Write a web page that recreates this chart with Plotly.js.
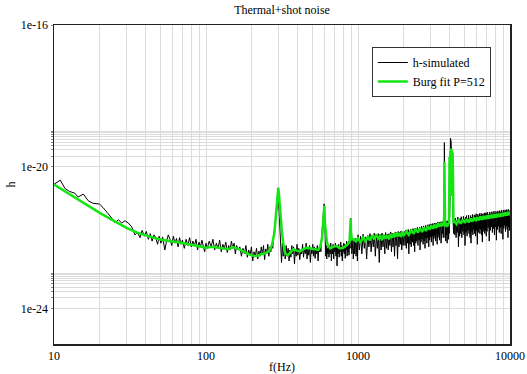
<!DOCTYPE html>
<html><head><meta charset="utf-8">
<script src="https://cdn.plot.ly/plotly-3.0.1.min.js"></script>
<style>html,body{margin:0;padding:0;background:#fff}#chart{width:527px;height:374px}</style>
</head><body><div id="chart"></div>
<script>
// h-simulated (frequency in Hz, strain value)
const simFreq = [
10,10.5,11,11.8,12.7,13.7,14.4,15.6,16.8,18.1,19.9,21,22.5,24,25.2,26.5,27.9,29.3,30.8,32.5,34.1,
35.5,36.8,38,39.3,40.5,41.8,43,44.2,45.5,46.7,48,49.2,50.5,51.8,53.6,55,56.5,58,59.5,61,62.5,64,65.5,67,68.5,70,72,74,76,78,80,82,84,86,88,90,92,94,96,98,
100,102,105,108,111,114,117,120,123,126,129,132,135,138,141,144,147,150,153,156,159,163,167,171,175,179,183,187,191,195,199,203,207,211,215,219,223,227,231,235,239,243,247,251,255,259,263,267,271,275,279,283,287,292,296,300,303,306,310,314,318,322,327,332,337,342,347,352,357,362,367,372,377,382,387,392,397,
402,408,414,420,426,432,438,444,450,456,462,468,474,480,486,492,498,504,510,516,522,528,534,540,546,552,558,564,570,576,582,588,594,598,602,606,610,614,618,623,628,633,638,644,650,656,662,668,674,680,686,692,698,704,710,716,722,728,734,740,746,752,758,764,770,776,782,788,794,800,806,812,818,824,830,836,842,848,854,860,866,872,878,884,890,895,898,902,906,911,916,921,926,931,936,941,946,951,956,961,966,971,976,981,986,991,996,
1000,1020,1040,1060,1080,1100,1120,1140,1160,1180,1200,1220,1240,1260,1280,1300,1320,1340,1360,1380,1400,1420,1440,1460,1480,1500,1520,1540,1560,1580,1600,1620,1640,1660,1680,1700,1720,1740,1760,1780,1800,1820,1840,1860,1880,1900,1920,1940,1960,1980,2000,
2020,2040,2060,2080,2100,2120,2140,2160,2180,2200,2220,2240,2260,2280,2300,2320,2340,2360,2380,2400,
2420,2440,2460,2480,2500,2520,2540,2560,2580,2600,2620,2640,2660,2680,2700,2720,2740,2760,2780,2800,
2820,2840,2860,2880,2900,2920,2940,2960,2980,3000,3020,3040,3060,3080,3100,3120,3140,3160,3180,3200,
3220,3240,3260,3280,3300,3320,3340,3360,3380,3400,3420,3440,3460,3480,3500,3520,3540,3560,3580,3600,
3620,3640,3660,
3690,3700,3710,3720,3740,3760,3780,3800,3820,3840,3860,3880,3900,3920,3940,3960,3980,
4030,4060,4080,4100,4120,4140,4160,4190,4220,4260,
4300,4340,4380,4420,4460,4500,4540,4580,4620,4660,4700,4740,4780,4820,4860,4900,4940,4980,5020,5060,
5100,5140,5180,5220,5260,5300,5340,5380,5420,5460,5500,5540,5580,5620,5660,5700,5740,5780,5820,5860,
5900,5940,5980,6020,6060,6100,6140,6180,6220,6260,6300,6340,6380,6420,6460,6500,6540,6580,6620,6660,
6700,6740,6780,6820,6860,6900,6940,6980,
7000,7060,7120,7180,7240,7300,7360,7420,7480,7540,7600,7660,7720,7780,7840,7900,7960,8020,8080,8140,
8200,8260,8320,8380,8440,8500,8560,8620,8680,8740,8800,8860,8920,8980,9040,9100,9160,9220,9280,9340,
9400,9460,9520,9580,9640,9700,9760,9820,9880,9940,10000
];
const simH = [
3.2e-21,3.7e-21,4.2e-21,2.45e-21,2.0e-21,1.8e-21,1.4e-21,1.7e-21,1.1e-21,9.3e-22,8.9e-22,7.1e-22,5e-22,3.55e-22,2.6e-22,3.2e-22,2.6e-22,3.0e-22,2.6e-22,2.0e-22,1.2e-22,
1.4e-22,1.0e-22,1.6e-22,1.1e-22,1.5e-22,9e-23,1.3e-22,8e-23,1.2e-22,1.0e-22,6.5e-23,1.1e-22,7e-23,1.05e-22,4.5e-23,8e-23,1.2e-22,9e-23,6e-23,1.1e-22,7e-23,9.5e-23,5.5e-23,1.0e-22,6.5e-23,8.5e-23,5e-23,9e-23,6e-23,1.0e-22,5.5e-23,8e-23,6e-23,9e-23,4.5e-23,7.5e-23,5.5e-23,8.5e-23,6e-23,4e-23,
7e-23,5e-23,8e-23,5.5e-23,9e-23,4.5e-23,7e-23,5e-23,8.5e-23,4e-23,6.5e-23,5e-23,7.5e-23,3.8e-23,6e-23,4.5e-23,8e-23,5e-23,7e-23,3.5e-23,6e-23,4.5e-23,5.5e-23,3e-23,5e-23,3.5e-23,6e-23,2.8e-23,4.5e-23,3.2e-23,5.5e-23,2.2e-23,4e-23,3e-23,5e-23,2.5e-23,4.2e-23,3e-23,5.5e-23,3.3e-23,6e-23,2.4e-23,4.8e-23,3.5e-23,6.5e-23,3e-23,5.5e-23,4e-23,7e-23,5e-23,1.2e-22,2.2e-22,3.5e-22,6e-22,8e-22,1.0e-21,5e-22,2.2e-22,1.0e-22,2e-23,7e-23,3e-23,5.5e-23,2.5e-23,6e-23,3e-23,5e-23,2.2e-23,4.5e-23,2.8e-23,6e-23,3.5e-23,5.5e-23,1.8e-23,4.5e-23,3e-23,6.5e-23,
3.2e-23,5e-23,2.4e-23,4.5e-23,3.5e-23,6.5e-23,2.8e-23,5e-23,3.5e-23,7e-23,2.5e-23,5e-23,3.2e-23,6e-23,2e-23,4.5e-23,3.5e-23,6.5e-23,3e-23,5.5e-23,2.6e-23,5e-23,3.5e-23,6e-23,2.2e-23,5e-23,4e-23,6e-23,4e-23,1.0e-22,2e-22,4e-22,6.5e-22,9e-22,5e-22,2e-22,8e-23,3e-23,6e-23,2.5e-23,5e-23,3.5e-23,6.5e-23,2.8e-23,5.5e-23,3.5e-23,7e-23,2.2e-23,5e-23,3.5e-23,6.5e-23,2.5e-23,5.5e-23,4e-23,7e-23,3e-23,5.5e-23,1.6e-23,5e-23,3.5e-23,6.5e-23,2.8e-23,5.5e-23,4e-23,7.5e-23,3e-23,6e-23,2.2e-23,5e-23,4e-23,7e-23,3.5e-23,6.5e-23,2.6e-23,6e-23,4.5e-23,8e-23,3e-23,6.5e-23,4e-23,8e-23,3.2e-23,7e-23,5e-23,1.5e-22,3.5e-22,1.2e-22,5e-23,8e-23,3.5e-23,7e-23,4.5e-23,8.5e-23,2.5e-23,7e-23,4.5e-23,9e-23,3.5e-23,7.5e-23,5e-23,9.5e-23,3e-23,7e-23,4.5e-23,8.5e-23,2.2e-23,6.5e-23,
1.2e-22,4.5e-23,1.1e-22,3.5e-23,1.25e-22,5e-23,1.05e-22,2.5e-23,1.15e-22,5.5e-23,1.3e-22,4e-23,1.2e-22,5.5e-23,1.35e-22,3e-23,1.15e-22,5e-23,1.3e-22,2e-23,1.25e-22,4.5e-23,1.35e-22,5.5e-23,1.2e-22,3.5e-23,1.4e-22,5e-23,1.25e-22,4.5e-23,1.3e-22,6e-23,1.45e-22,4e-23,1.35e-22,5.5e-23,1.2e-22,3e-23,1.45e-22,6e-23,1.35e-22,2.5e-23,1.5e-22,5.5e-23,1.4e-22,6.5e-23,1.55e-22,4.5e-23,1.4e-22,6e-23,1.5e-22,
1.5e-22,6e-23,1.65e-22,5e-23,1.4e-22,7e-23,1.7e-22,3.5e-23,1.55e-22,6.5e-23,1.75e-22,5.5e-23,1.5e-22,7.5e-23,1.8e-22,6e-23,1.6e-22,4e-23,1.85e-22,7e-23,
1.65e-22,8e-23,1.95e-22,6e-23,1.7e-22,8.5e-23,2.0e-22,4.5e-23,1.8e-22,7.5e-23,2.1e-22,9e-23,1.85e-22,6.5e-23,2.15e-22,8e-23,1.9e-22,5e-23,2.2e-22,9.5e-23,
2.0e-22,7e-23,2.3e-22,1.0e-22,2.05e-22,5.5e-23,2.35e-22,8.5e-23,2.1e-22,1.05e-22,2.45e-22,7.5e-23,2.2e-22,1.1e-22,2.5e-22,6e-23,2.25e-22,9.5e-23,2.55e-22,1.15e-22,
2.3e-22,8e-23,2.6e-22,1.2e-22,2.35e-22,6.5e-23,2.7e-22,1.0e-22,2.4e-22,1.25e-22,2.75e-22,8.5e-23,2.5e-22,1.3e-22,2.8e-22,7e-23,2.55e-22,1.1e-22,2.85e-22,1.3e-22,
2.6e-22,1.0e-22,2.4e-22,
1.5e-21,4.8e-20,6e-22,2.8e-22,1.0e-22,2.6e-22,8e-23,2.9e-22,1.2e-22,2.7e-22,7e-23,3.0e-22,1.1e-22,2.8e-22,9e-23,3.0e-22,1.3e-22,
1e-21,6.3e-20,8e-21,5e-20,2.5e-20,3e-21,2.8e-20,1e-21,3e-22,1.3e-22,
3.3e-22,1.2e-22,3.6e-22,1.0e-22,3.0e-22,1.4e-22,3.8e-22,5.5e-23,3.2e-22,1.1e-22,3.5e-22,1.3e-22,3.9e-22,1.0e-22,3.1e-22,1.5e-22,4.0e-22,1.2e-22,3.4e-22,6e-23,
3.8e-22,1.4e-22,4.2e-22,1.1e-22,3.5e-22,1.6e-22,4.3e-22,1.3e-22,3.6e-22,1.0e-22,4.2e-22,7e-23,3.8e-22,1.5e-22,4.5e-22,1.2e-22,3.7e-22,1.7e-22,4.4e-22,1.3e-22,
4.0e-22,1.1e-22,4.7e-22,1.6e-22,3.9e-22,6.5e-23,4.6e-22,1.4e-22,4.1e-22,1.8e-22,4.8e-22,1.3e-22,4.2e-22,1.7e-22,4.9e-22,1.2e-22,4.3e-22,7.5e-23,4.7e-22,1.5e-22,
4.4e-22,1.8e-22,5.0e-22,1.3e-22,4.5e-22,1.6e-22,5.1e-22,1.1e-22,
4.6e-22,1.5e-22,5.2e-22,1.9e-22,4.5e-22,8e-23,5.3e-22,1.6e-22,4.7e-22,2.0e-22,5.4e-22,1.4e-22,4.8e-22,1.8e-22,5.6e-22,1.2e-22,4.9e-22,2.0e-22,5.5e-22,8.5e-23,
5.0e-22,1.7e-22,5.7e-22,2.1e-22,5.1e-22,1.4e-22,5.8e-22,1.9e-22,5.2e-22,1.3e-22,5.9e-22,2.0e-22,5.3e-22,9e-23,6.0e-22,1.8e-22,5.4e-22,2.2e-22,6.1e-22,1.5e-22,
5.5e-22,2.1e-22,6.2e-22,1.7e-22,5.6e-22,1.0e-22,6.3e-22,2.0e-22,5.7e-22,1.6e-22,6.0e-22
];
// Burg fit P=512
const fitFreq = [
10,11,12,14,16,18,20,23,26,30,35,40,45,50,55,60,70,80,90,100,110,123,140,150,160,175,185,200,215,230,245,260,272,282,290,296,299,303,308,315,322,331,345,357,375,395,415,440,460,483,510,548,565,580,590,597,601,606,615,625,655,690,727,760,800,850,880,890,895,900,910,940,970,
1000,1040,1080,1120,1160,1200,1240,1280,1320,1360,1400,1440,1480,1520,1560,1600,1640,1680,1720,1760,1800,1840,1880,1920,1960,2000,
2080,2160,2240,2320,2400,2480,2560,2640,2720,2800,2880,2960,3040,3120,3200,3280,3360,3440,3520,3600,3660,
3690,3700,3712,3740,3780,3820,3860,3900,3940,3975,
4000,4020,4045,4070,4095,4120,4145,4170,4195,4225,4250,
4300,4450,4600,4750,4900,5050,5200,5350,5500,5650,5800,5950,6100,6250,6400,6550,6700,6850,7000,7150,7300,7450,7600,7750,7900,8050,8200,8350,8500,8650,8800,8950,9100,9250,9400,9550,9700,9850,10000
];
const fitH = [
3.16e-21,2.45e-21,1.9e-21,1.26e-21,8.9e-22,6.6e-22,5e-22,3.55e-22,2.63e-22,1.9e-22,1.41e-22,1.15e-22,1e-22,8.9e-23,8.1e-23,7.8e-23,7.1e-23,6.3e-23,5.8e-23,5.2e-23,5.5e-23,5e-23,4.7e-23,5.4e-23,5e-23,4.2e-23,3.6e-23,3.16e-23,3e-23,3.4e-23,3.6e-23,4.2e-23,6.3e-23,1.41e-22,5e-22,1.6e-21,2.6e-21,1.4e-21,5e-22,1.6e-22,7.1e-23,3.6e-23,3.16e-23,3.8e-23,4.7e-23,4.3e-23,4.1e-23,4.8e-23,5.2e-23,5e-23,4.7e-23,4.5e-23,5.6e-23,1e-22,2.5e-22,6.8e-22,8e-22,2.5e-22,1e-22,7.1e-23,5e-23,5.6e-23,5.8e-23,5e-23,5.2e-23,6.3e-23,7.6e-23,1.4e-22,3.4e-22,1.4e-22,9.3e-23,8.9e-23,7.9e-23,
9.5e-23,7.5e-23,1.0e-22,8e-23,1.05e-22,8.5e-23,1.15e-22,9e-23,1.25e-22,9.5e-23,1.1e-22,8.5e-23,1.2e-22,9.5e-23,1.15e-22,9e-23,1.25e-22,1.0e-22,1.3e-22,1.05e-22,1.4e-22,1.1e-22,1.35e-22,1.05e-22,1.45e-22,1.15e-22,
1.5e-22,1.2e-22,1.65e-22,1.3e-22,1.75e-22,1.4e-22,1.85e-22,1.45e-22,1.95e-22,1.55e-22,2.05e-22,1.7e-22,2.2e-22,1.8e-22,2.3e-22,1.9e-22,2.5e-22,2.05e-22,2.6e-22,2.15e-22,2.4e-22,
4e-22,1.38e-20,4e-22,2.1e-22,2.6e-22,2e-22,2.55e-22,2.1e-22,2.7e-22,2.4e-22,
1.9e-20,1.6e-21,2.8e-20,3e-21,3.3e-20,2e-21,3e-20,1.5e-21,2.5e-20,8e-22,2.6e-22,
3.0e-22,2.4e-22,3.1e-22,2.5e-22,3.25e-22,2.6e-22,3.4e-22,2.7e-22,3.5e-22,2.85e-22,3.7e-22,2.95e-22,3.8e-22,3.1e-22,3.95e-22,3.2e-22,4.1e-22,3.3e-22,4.2e-22,3.4e-22,4.3e-22,3.5e-22,4.45e-22,3.6e-22,4.6e-22,3.7e-22,4.7e-22,3.8e-22,4.8e-22,3.9e-22,4.95e-22,4.0e-22,5.1e-22,4.1e-22,5.2e-22,4.2e-22,5.4e-22,4.3e-22,5.5e-22
];
// axis ticks / grid positions and labels
const xTickVals = [10,20,30,40,50,60,70,80,90,100,200,300,400,500,600,700,800,900,1000,2000,3000,4000,5000,6000,7000,8000,9000,10000];
const xTickText = ['10','','','','','','','','','100','','','','','','','','','1000','','','','','','','','','10000'];
const yTickVals = [1e-24,2e-24,3e-24,4e-24,5e-24,6e-24,7e-24,8e-24,9e-24,1e-23,1e-20,2e-20,3e-20,4e-20,5e-20,6e-20,7e-20,8e-20,9e-20,1e-19,1e-16];
const yTickText = ['1e-24','','','','','','','','','','1e-20','','','','','','','','','','1e-16'];
const seriesNames = ['h-simulated','Burg fit P=512'];

const serif = 'Liberation Serif, Times New Roman, serif';
const traces = [
  {x: simFreq, y: simH, type:'scatter', mode:'lines', name: seriesNames[0],
   line:{color:'#000000', width:1}},
  {x: fitFreq, y: fitH, type:'scatter', mode:'lines', name: seriesNames[1],
   line:{color:'#14e614', width:2.5}}
];
const axisCommon = {
  type:'log', tickmode:'array', showgrid:true, gridcolor:'#dcdcdc', gridwidth:1,
  showline:true, linecolor:'#222', linewidth:1.5, mirror:true, zeroline:false,
  tickfont:{family:serif, size:12, color:'#000'}
};
const layout = {
  width:527, height:374,
  margin:{l:54, r:17, t:25, b:30},
  paper_bgcolor:'#ffffff', plot_bgcolor:'#ffffff',
  font:{family:serif, size:12, color:'#000'},
  title:{text:'Thermal+shot noise', xref:'paper', x:0.5, xanchor:'center', yref:'container', y:0.973, yanchor:'middle', font:{family:serif, size:12, color:'#000'}},
  xaxis: Object.assign({}, axisCommon, {range:[1,4], tickvals:xTickVals, ticktext:xTickText, ticks:'',
     title:{text:'f(Hz)', standoff:2, font:{family:serif, size:12}}}),
  yaxis: Object.assign({}, axisCommon, {range:[-25,-16], tickvals:yTickVals, ticktext:yTickText, ticks:'outside', ticklen:2, tickcolor:'#888',
     title:{text:'h', standoff:2, font:{family:serif, size:12}}}),
  showlegend:true,
  legend:{x:0.697, y:0.931, xanchor:'left', yanchor:'top', bgcolor:'#ffffff', bordercolor:'#333', borderwidth:1,
     font:{family:serif, size:12, color:'#000'}}
};
Plotly.newPlot('chart', traces, layout, {staticPlot:true, displayModeBar:false});
</script>
</body></html>
